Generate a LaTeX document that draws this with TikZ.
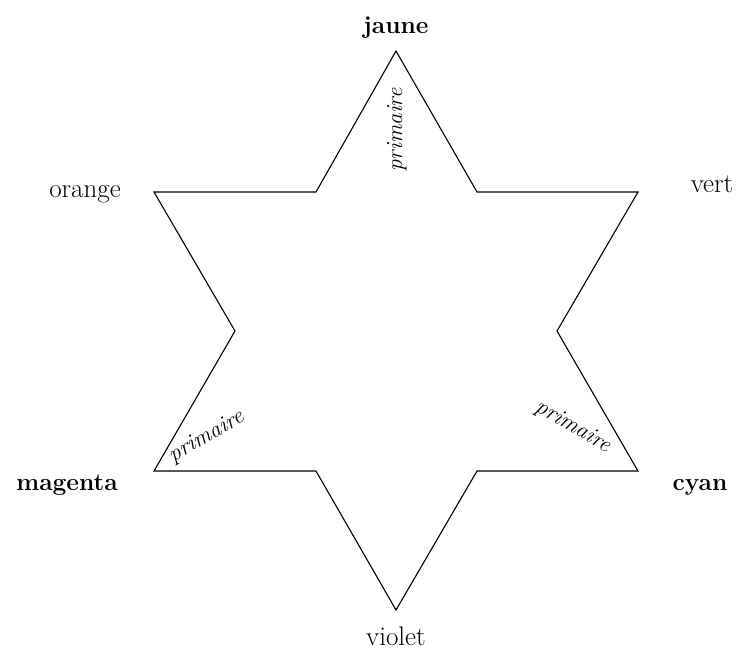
\documentclass[tikz,border=0pt]{standalone}
\begin{document}
\begin{tikzpicture}[x=1pt,y=-1pt,
  lab/.style={font=\fontsize{27}{30}\selectfont, anchor=base, inner sep=0pt},
  blab/.style={font=\fontsize{24.5}{28}\selectfont\bfseries, anchor=base, inner sep=0pt},
  prim/.style={font=\fontsize{23}{26}\selectfont\itshape, inner sep=0pt},
  star/.style={draw=black, line width=1.1pt, line join=miter}]
\useasboundingbox (0,0) rectangle (739,649);
% outer vertices
\coordinate (T) at (396,51);
\coordinate (UR) at (638,192);
\coordinate (LR) at (638,471);
\coordinate (B) at (396,610);
\coordinate (LL) at (154,471);
\coordinate (UL) at (154,192);
% inner vertices
\coordinate (iTR) at (477,192);
\coordinate (iR) at (557,331);
\coordinate (iBR) at (477,471);
\coordinate (iBL) at (316,471);
\coordinate (iL) at (235,331);
\coordinate (iTL) at (316,192);
\draw[star] (T) -- (iTR) -- (UR) -- (iR) -- (LR) -- (iBR) -- (B) -- (iBL) -- (LL) -- (iL) -- (UL) -- (iTL) -- cycle;
% labels
\node[blab] (jaune) at (396,33) {jaune};
\node[lab] (orange) at (85,197) {orange};
\node[lab] (vert) at (712,192) {vert};
\node[blab] (magenta) at (67,490) {magenta};
\node[blab] (cyan) at (700,490) {cyan};
\node[lab] (violet) at (396,645) {violet};
% primaire
\node[prim, rotate=90] (p1) at (397,130) {primaire};
\node[prim, rotate=30] (p2) at (207,437) {primaire};
\node[prim, rotate=-30] (p3) at (573,427) {primaire};
\end{tikzpicture}
\end{document}
